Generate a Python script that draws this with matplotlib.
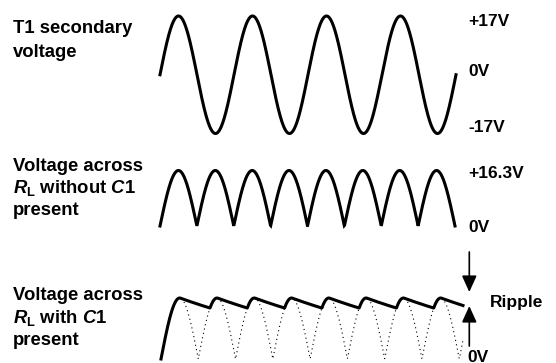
import numpy as np
import matplotlib
matplotlib.use("Agg")
import matplotlib.pyplot as plt

# waveform parameters
cycles = 4                 # mains cycles shown
peak_secondary = 17.0      # V, T1 secondary
peak_rectified = 16.3      # V, after the diodes
ripple_fraction = 0.16     # drop between peaks with C1 present
extra_halfcycles = 0.1     # bottom trace runs a little past the others

left_labels = [
    ["T1 secondary", "voltage"],
    ["Voltage across", r"$R_{\mathrm{L}}$ without $C$1", "present"],
    ["Voltage across", r"$R_{\mathrm{L}}$ with $C$1", "present"],
]
right_labels = ["+17V", "0V", "-17V", "+16.3V", "0V"]
ripple_label = "Ripple"
bottom_label = "0V"

W, H = 556, 363


def fx(px):
    return px / W


def fy(py):
    return 1 - py / H


def main():
    plt.rcParams["font.family"] = "Liberation Sans"
    plt.rcParams["font.weight"] = "bold"
    plt.rcParams["mathtext.fontset"] = "custom"
    plt.rcParams["mathtext.rm"] = "Liberation Sans:bold"
    plt.rcParams["mathtext.it"] = "Liberation Sans:italic:bold"

    fig = plt.figure(figsize=(W / 100, H / 100), dpi=100)

    lw = 2.2

    # top: secondary voltage
    t = np.linspace(0, cycles * 2 * np.pi, 1200)
    ax1 = fig.add_axes([fx(160), fy(133.5), fx(296), (133.5 - 16) / H])
    ax1.plot(t, peak_secondary * np.sin(t), color="black", lw=lw, clip_on=False)
    ax1.set_xlim(t[0], t[-1])
    ax1.set_ylim(-peak_secondary, peak_secondary)

    # middle: full-wave rectified
    ax2 = fig.add_axes([fx(160), fy(226), fx(295), (226 - 170.5) / H])
    ax2.plot(t, peak_rectified * np.abs(np.sin(t)), color="black", lw=lw,
             clip_on=False, solid_joinstyle="miter")
    ax2.set_xlim(t[0], t[-1])
    ax2.set_ylim(0, peak_rectified)

    # bottom: with reservoir capacitor
    n_half = 2 * cycles + extra_halfcycles
    t3 = np.linspace(0, n_half * np.pi, 1500)
    rect = peak_rectified * np.abs(np.sin(t3))
    tau = 0.78 * np.pi / -np.log(1 - ripple_fraction)
    filt = np.zeros_like(rect)
    for i in range(1, len(t3)):
        dt = t3[i] - t3[i - 1]
        filt[i] = max(rect[i], filt[i - 1] * np.exp(-dt / tau))

    ax3 = fig.add_axes([fx(161), fy(359), fx(302), (359 - 298) / H])
    ax3.plot(t3, rect, color="black", lw=0.8, ls=(0, (1, 3)), clip_on=False)
    ax3.plot(t3, filt, color="black", lw=lw, clip_on=False)
    ax3.set_xlim(t3[0], t3[-1])
    ax3.set_ylim(0, peak_rectified)

    for ax in (ax1, ax2, ax3):
        ax.axis("off")

    # ripple arrows
    per_px = n_half * np.pi / 302
    per_v = peak_rectified / 61
    xa = (469.3 - 161) * per_px
    arrow = dict(arrowstyle="-|>,head_length=0.55,head_width=0.25", color="black",
                 lw=1.2, mutation_scale=18, shrinkA=0, shrinkB=0)
    ax3.annotate("", xy=(xa, (359 - 292) * per_v), xytext=(xa, (359 - 252) * per_v),
                 arrowprops=arrow, annotation_clip=False)
    ax3.annotate("", xy=(xa, (359 - 306) * per_v), xytext=(xa, (359 - 346) * per_v),
                 arrowprops=arrow, annotation_clip=False)

    # left-hand captions
    baselines = [[33.3, 56.7], [171, 193, 215], [300, 323, 345]]
    for lines, ys in zip(left_labels, baselines):
        for s, y in zip(lines, ys):
            fig.text(fx(13), fy(y), s, fontsize=13.3, fontweight="bold",
                     ha="left", va="baseline")

    # right-hand voltage marks
    for s, y in zip(right_labels, [22, 72, 128, 173, 227]):
        fig.text(fx(468), fy(y), s, fontsize=12.5, fontweight="bold",
                 ha="left", va="center")
    fig.text(fx(490), fy(302), ripple_label, fontsize=12.5, fontweight="bold",
             ha="left", va="center")
    fig.text(fx(467), fy(361.5), bottom_label, fontsize=12.5, fontweight="bold",
             ha="left", va="baseline")

    fig.savefig("out.png", dpi=100)


if __name__ == "__main__":
    main()
